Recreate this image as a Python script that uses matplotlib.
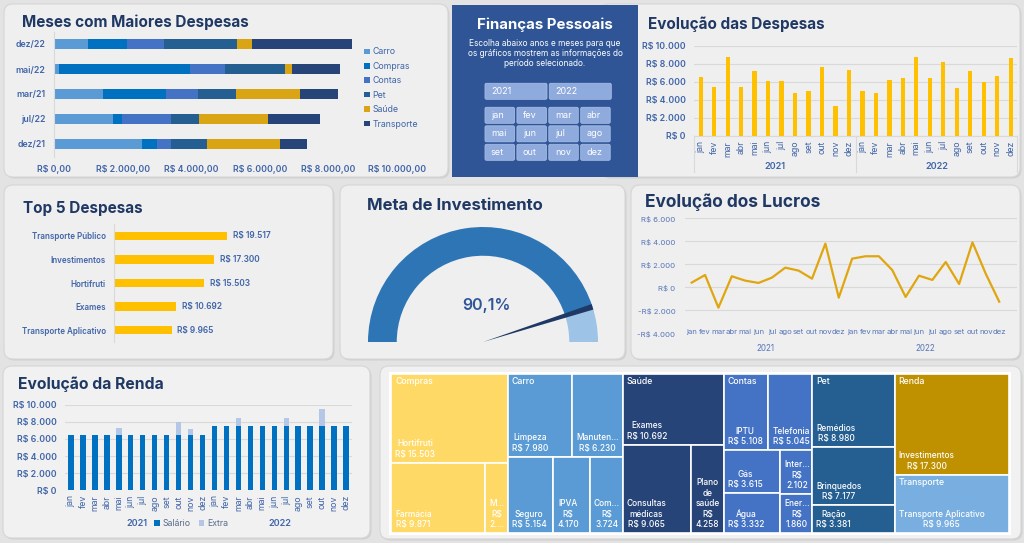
import numpy as np
import matplotlib.pyplot as plt
from matplotlib.patches import FancyBboxPatch, Rectangle
from matplotlib.transforms import blended_transform_factory

plt.rcParams['font.family'] = ['Inter', 'DejaVu Sans']

W, H = 1024, 543

# -----------------------------
# dados
# -----------------------------
meses = ['jan', 'fev', 'mar', 'abr', 'mai', 'jun', 'jul', 'ago', 'set', 'out', 'nov', 'dez']
anos = ['2021', '2022']

# meses com maiores despesas, empilhado por categoria
top_meses = ['dez/22', 'mai/22', 'mar/21', 'jul/22', 'dez/21']
categorias = ['Carro', 'Compras', 'Contas', 'Pet', 'Saúde', 'Transporte']
gasto_carro = [990, 136, 1437, 1718, 2563]
gasto_compras = [1136, 3825, 1816, 262, 437]
gasto_contas = [1078, 1019, 951, 1427, 417]
gasto_pet = [2126, 1757, 1107, 816, 1058]
gasto_saude = [456, 194, 1864, 2029, 2117]
gasto_transporte = [2913, 1417, 1107, 1495, 777]

despesas_2021 = [6490, 5390, 8710, 5420, 7200, 6090, 6090, 4760, 4980, 7680, 3360, 7340]
despesas_2022 = [4980, 4760, 6240, 6380, 8780, 6460, 8190, 5280, 7200, 6010, 6680, 8670]

lucros_2021 = [410, 1070, -1770, 960, 580, 380, 840, 1710, 1450, 750, 3800, -900]
lucros_2022 = [2490, 2700, 2700, 1500, -840, 1010, 640, 2200, 290, 3910, 1160, -1250]

salario_2021 = [6500, 6500, 6500, 6500, 6500, 6500, 6500, 6500, 6500, 6500, 6500, 6500]
salario_2022 = [7500, 7500, 7500, 7500, 7500, 7500, 7500, 7500, 7500, 7500, 7500, 7500]
extra_2021 = [0, 0, 0, 0, 800, 0, 0, 0, 0, 1500, 700, 0]
extra_2022 = [0, 0, 1000, 0, 0, 0, 900, 0, 0, 2000, 0, 0]

top5_nomes = ['Transporte Público', 'Investimentos', 'Hortifruti', 'Exames', 'Transporte Aplicativo']
top5_valores = [19517, 17300, 15503, 10692, 9965]

meta_investimento = 90.1

tm_itens = ['Hortifruti', 'Farmácia', 'Mercado', 'Limpeza', 'Manutenção', 'Seguro', 'IPVA',
            'Combustível', 'Exames', 'Consultas médicas', 'Plano de saúde', 'IPTU', 'Telefonia',
            'Gás', 'Água', 'Internet', 'Energia', 'Remédios', 'Brinquedos', 'Ração',
            'Investimentos', 'Transporte Aplicativo']
tm_grupos = ['Compras', 'Compras', 'Compras', 'Carro', 'Carro', 'Carro', 'Carro', 'Carro',
             'Saúde', 'Saúde', 'Saúde', 'Contas', 'Contas', 'Contas', 'Contas', 'Contas',
             'Contas', 'Pet', 'Pet', 'Pet', 'Renda', 'Transporte']
tm_valores = [15503, 9871, 2400, 7980, 6230, 5154, 4170, 3724, 10692, 9065, 4258, 5108, 5045,
              3615, 3332, 2102, 1860, 8980, 7177, 3381, 17300, 9965]

# -----------------------------
# estilos
# -----------------------------
cores_cat = ['#5b9bd5', '#0070c0', '#4472c4', '#255e91', '#d9a514', '#264478']
cores_tm = {'Compras': '#ffd966', 'Carro': '#5b9bd5', 'Saúde': '#264478', 'Contas': '#4472c4',
            'Pet': '#255e91', 'Renda': '#bf9000', 'Transporte': '#78aee0'}
amarelo = '#ffc000'
cor_titulo = '#1f3864'
cor_eixo = '#3f64a8'
cor_grade = '#d9d9d9'
peso = 'semibold'


def brl(v, dec=0):
    s = f"{abs(v):,.{dec}f}".replace(',', 'X').replace('.', ',').replace('X', '.')
    return ('-' if v < 0 else '') + 'R$ ' + s


fig = plt.figure(figsize=(W / 100, H / 100), dpi=100)
fig.patch.set_facecolor('#e3e3e3')
bg = fig.add_axes([0, 0, 1, 1])
bg.set_xlim(0, W)
bg.set_ylim(H, 0)
bg.axis('off')


def painel(x0, y0, x1, y1, cor='#efefef', raio=9):
    bg.add_patch(FancyBboxPatch((x0 + 1.5, y0 + 1.5), x1 - x0, y1 - y0,
                                boxstyle=f'round,pad=0,rounding_size={raio}',
                                fc='#d0d0d0', ec='none'))
    bg.add_patch(FancyBboxPatch((x0, y0), x1 - x0, y1 - y0,
                                boxstyle=f'round,pad=0,rounding_size={raio}',
                                fc=cor, ec='#d6d6d6', lw=0.8))


def eixo(x0, y0, x1, y1):
    a = fig.add_axes([x0 / W, 1 - y1 / H, (x1 - x0) / W, (y1 - y0) / H])
    a.set_facecolor('none')
    return a


def titulo(x, y, s, size=11.0, **kw):
    bg.text(x, y, s, fontsize=size, fontweight='bold', color=kw.pop('color', cor_titulo),
            va='center', **kw)


painel(4, 4, 448, 177)
painel(600, 4, 1020, 177)
painel(4, 185, 333, 359)
painel(340, 185, 625, 359)
painel(631, 185, 1020, 359)
painel(3, 366, 370, 538, cor='#f1f1f1')
painel(380, 366, 1021, 539, cor='#f1f1f1')

# -----------------------------
# Finanças Pessoais (caixa azul)
# -----------------------------
bg.add_patch(Rectangle((452, 5), 186, 172, fc='#2f5597', ec='none'))
titulo(545, 25, 'Finanças Pessoais', size=10.8, color='white', ha='center')
for i, linha in enumerate(['Escolha abaixo anos e meses para que',
                           'os gráficos mostrem as informações do',
                           'período selecionado.']):
    bg.text(545, 44 + 10 * i, linha, fontsize=6.0, color='white', ha='center', va='center')


def botao(x, y, w, h, s):
    bg.add_patch(FancyBboxPatch((x, y), w, h, boxstyle='round,pad=0,rounding_size=1.5',
                                fc='#8faadc', ec='#a8bde4', lw=0.6))
    bg.text(x + 6, y + h / 2, s, fontsize=6.5, color='white', va='center')


for i, a in enumerate(anos):
    botao(485 + i * 64.3, 83.3, 62, 16, a)
for k, m in enumerate(meses):
    botao(485 + (k % 4) * 31.9, 107.3 + (k // 4) * 18.5, 29.5, 16, m)

# -----------------------------
# Meses com Maiores Despesas
# -----------------------------
titulo(22, 22, 'Meses com Maiores Despesas')
ax = eixo(54, 31.5, 397, 156.5)
y = np.arange(len(top_meses))
esq = np.zeros(len(top_meses))
for nome, vals, cor in zip(categorias,
                           [gasto_carro, gasto_compras, gasto_contas, gasto_pet, gasto_saude,
                            gasto_transporte], cores_cat):
    ax.barh(y, vals, left=esq, height=0.42, color=cor, label=nome)
    esq += np.array(vals)
ax.set_yticks(y, top_meses)
ax.set_ylim(4.5, -0.5)
ax.set_xlim(0, 10000)
ax.set_xticks(np.arange(0, 10001, 2000), [brl(v, 2) for v in np.arange(0, 10001, 2000)])
ax.tick_params(length=0, labelsize=6.3, labelcolor=cor_eixo, pad=6)
for s in ['top', 'right', 'bottom']:
    ax.spines[s].set_visible(False)
ax.spines['left'].set_color(cor_grade)
for t in ax.get_xticklabels() + ax.get_yticklabels():
    t.set_fontweight(peso)
leg = ax.legend(loc='upper left', bbox_to_anchor=(0.895, 0.9), frameon=False,
                handlelength=0.6, handleheight=0.6, handletextpad=0.3, labelspacing=0.62,
                fontsize=6.3, borderaxespad=0)
for t in leg.get_texts():
    t.set_color(cor_eixo)

# -----------------------------
# Evolução das Despesas
# -----------------------------
titulo(648, 24, 'Evolução das Despesas')
ax = eixo(694, 45.7, 1017.4, 136)
x = np.arange(24)
ax.bar(x, despesas_2021 + despesas_2022, width=0.32, color=amarelo, zorder=3)
ax.set_xlim(-0.5, 23.5)
ax.set_ylim(0, 10000)
ax.set_yticks(np.arange(0, 10001, 2000), [brl(v) for v in np.arange(0, 10001, 2000)])
ax.set_xticks(x, meses + meses, rotation=90)
ax.tick_params(length=0, labelsize=6.3, labelcolor=cor_eixo)
ax.tick_params(axis='y', pad=6)
ax.grid(axis='y', color=cor_grade, lw=0.8, zorder=0)
for s in ['top', 'right', 'left']:
    ax.spines[s].set_visible(False)
ax.spines['bottom'].set_color(cor_grade)
for t in ax.get_yticklabels():
    t.set_fontweight(peso)
tr = blended_transform_factory(ax.transData, ax.transAxes)
for xs in [-0.5, 11.5, 23.5]:
    ax.plot([xs, xs], [0, -0.40], color=cor_grade, lw=0.8, transform=tr, clip_on=False)
for i, a in enumerate(anos):
    ax.text(5.5 + 12 * i, -0.34, a, transform=tr, ha='center', va='center', fontsize=6.5,
            color=cor_eixo, fontweight=peso)

# -----------------------------
# Top 5 Despesas
# -----------------------------
titulo(23, 208, 'Top 5 Despesas')
ax = eixo(114, 224.2, 311.4, 342)
y = np.arange(len(top5_nomes))
barras = ax.barh(y, top5_valores, height=0.36, color=amarelo)
ax.bar_label(barras, labels=[brl(v) for v in top5_valores], padding=4, fontsize=6.0,
             color=cor_eixo, fontweight=peso)
ax.set_yticks(y, top5_nomes)
ax.set_ylim(4.5, -0.5)
ax.set_xlim(0, 34000)
ax.set_xticks([])
ax.tick_params(length=0, labelsize=5.8, labelcolor=cor_eixo, pad=6)
for t in ax.get_yticklabels():
    t.set_fontweight(peso)
for s in ['top', 'right', 'bottom']:
    ax.spines[s].set_visible(False)
ax.spines['left'].set_color(cor_grade)

# -----------------------------
# Meta de Investimento
# -----------------------------
titulo(367, 205, 'Meta de Investimento', size=12.0)
ax = eixo(362, 221, 604, 352)
ax.pie([meta_investimento, 100 - meta_investimento, 100], colors=['#2e75b6', '#9dc3e6', 'none'],
       startangle=180, counterclock=False, radius=1,
       wedgeprops=dict(width=0.25, edgecolor='none'))
ax.pie([meta_investimento - 0.8, 1.6, 200 - meta_investimento - 0.8],
       colors=['none', cor_titulo, 'none'], startangle=180, counterclock=False, radius=1.0,
       wedgeprops=dict(edgecolor='none'))
ax.text(0.03, 0.32, f"{meta_investimento:.1f}%".replace('.', ','), ha='center', va='center',
        fontsize=11.5, color='#2f5597', fontweight=peso)
ax.set_xlim(-121 / 115, 121 / 115)
ax.set_ylim(-10 / 115, 121 / 115)
ax.set_aspect('auto')

# -----------------------------
# Evolução dos Lucros
# -----------------------------
titulo(645, 202, 'Evolução dos Lucros', size=12.5)
ax = eixo(685, 218.3, 1017, 333.3)
ax.plot(x, lucros_2021 + lucros_2022, color='#e0a60f', lw=1.6, zorder=3)
ax.set_xlim(-0.5, 24.33)
ax.set_ylim(-4000, 6000)
ax.set_yticks(np.arange(-4000, 6001, 2000), [brl(v) for v in np.arange(-4000, 6001, 2000)])
ax.set_xticks(x, meses + meses)
ax.tick_params(length=0, labelsize=5.6, labelcolor='#5676b8')
ax.tick_params(axis='x', pad=-3)
ax.tick_params(axis='y', pad=7)
ax.grid(axis='y', color=cor_grade, lw=0.8, zorder=0)
ax.get_ygridlines()[0].set_visible(False)
for s in ax.spines.values():
    s.set_visible(False)
tr = blended_transform_factory(ax.transData, ax.transAxes)
for i, a in enumerate(anos):
    ax.text(5.5 + 12 * i, -0.13, a, transform=tr, ha='center', va='center', fontsize=5.8,
            color='#5676b8')

# -----------------------------
# Evolução da Renda
# -----------------------------
titulo(18, 384, 'Evolução da Renda', size=11.3)
ax = eixo(65, 404.7, 352, 490.3)
sal = salario_2021 + salario_2022
ext = extra_2021 + extra_2022
ax.bar(x, sal, width=0.45, color='#0070c0', label='Salário', zorder=3)
ax.bar(x, ext, bottom=sal, width=0.45, color='#b4c7e7', label='Extra', zorder=3)
ax.set_xlim(-0.5, 23.5)
ax.set_ylim(0, 10000)
ax.set_yticks(np.arange(0, 10001, 2000), [brl(v) for v in np.arange(0, 10001, 2000)])
ax.set_xticks(x, meses + meses, rotation=90)
ax.tick_params(length=0, labelsize=6.3, labelcolor=cor_eixo)
ax.tick_params(axis='y', pad=6)
ax.grid(axis='y', color=cor_grade, lw=0.8, zorder=0)
for s in ax.spines.values():
    s.set_visible(False)
for t in ax.get_yticklabels():
    t.set_fontweight(peso)
tr = blended_transform_factory(ax.transData, ax.transAxes)
ax.text(5.5, -0.386, anos[0], transform=tr, ha='center', va='center', fontsize=6.5,
        color=cor_eixo, fontweight=peso)
ax.text(17.5, -0.386, anos[1], transform=tr, ha='center', va='center', fontsize=6.5,
        color=cor_eixo, fontweight=peso)
leg = ax.legend(loc='center', bbox_to_anchor=(0.44, -0.386), ncol=2, frameon=False,
                handlelength=0.6, handleheight=0.6, handletextpad=0.3, columnspacing=1.0,
                fontsize=6.3, borderaxespad=0)
for t in leg.get_texts():
    t.set_color('#5a6b8c')

# -----------------------------
# Treemap
# -----------------------------
# como o Excel agrupou as células: 'h' lado a lado, 'v' empilhado
arranjo = ('h', [
    ('v', ['Hortifruti', ('h', ['Farmácia', 'Mercado'])]),
    ('v', [('h', ['Limpeza', 'Manutenção']), ('h', ['Seguro', 'IPVA', 'Combustível'])]),
    ('v', ['Exames', ('h', ['Consultas médicas', 'Plano de saúde'])]),
    ('v', [('h', ['IPTU', 'Telefonia']),
           ('h', [('v', ['Gás', 'Água']), ('v', ['Internet', 'Energia'])])]),
    ('v', ['Remédios', 'Brinquedos', 'Ração']),
    ('v', ['Investimentos', 'Transporte Aplicativo']),
])
valor = dict(zip(tm_itens, tm_valores))
grupo = dict(zip(tm_itens, tm_grupos))


def total(no):
    if isinstance(no, str):
        return valor[no]
    return sum(total(f) for f in no[1])


def dispor(no, x0, y0, w, h, out):
    if isinstance(no, str):
        out[no] = (x0, y0, w, h)
        return
    d, filhos = no
    t = total(no)
    for f in filhos:
        fr = total(f) / t
        if d == 'h':
            dispor(f, x0, y0, w * fr, h, out)
            x0 += w * fr
        else:
            dispor(f, x0, y0, w, h * fr, out)
            y0 += h * fr


nome_curto = {'Mercado': 'M...', 'Manutenção': 'Manuten...', 'Combustível': 'Com...',
              'Internet': 'Inter...', 'Energia': 'Ener...',
              'Consultas médicas': 'Consultas\nmédicas', 'Plano de saúde': 'Plano\nde\nsaúde'}
quebra = {'Mercado', 'IPVA', 'Combustível', 'Plano de saúde', 'Internet', 'Energia'}

bg.add_patch(Rectangle((389, 372), 622, 163, fc='white', ec='none'))
tmw, tmh = 618.3, 159.3
ax = eixo(391, 373.7, 391 + tmw, 373.7 + tmh)
ax.set_xlim(0, tmw)
ax.set_ylim(tmh, 0)
ax.axis('off')
cel = {}
dispor(arranjo, 0, 0, tmw, tmh, cel)
for nome in tm_itens:
    cx, cy, cw, ch = cel[nome]
    ax.add_patch(Rectangle((cx, cy), cw, ch, fc=cores_tm[grupo[nome]], ec='white', lw=1.2))
    v = brl(valor[nome])
    if nome == 'Mercado':
        v = 'R$\n' + str(valor[nome])[0] + '....'
    elif nome in quebra:
        v = v.replace(' ', '\n')
    ax.text(cx + 4, cy + ch - 4, nome_curto.get(nome, nome) + '\n' + v, ha='left', va='bottom',
            multialignment='center', fontsize=6.0, color='white', linespacing=1.2,
            fontweight='medium')
vistos = []
for nome in tm_itens:
    g = grupo[nome]
    if g in vistos:
        continue
    vistos.append(g)
    cx, cy, cw, ch = cel[nome]
    ax.text(cx + 4, cy + 8, g, ha='left', va='center', fontsize=6.3, color='white',
            fontweight='medium')

fig.savefig('out.png', dpi=100, facecolor=fig.get_facecolor())
